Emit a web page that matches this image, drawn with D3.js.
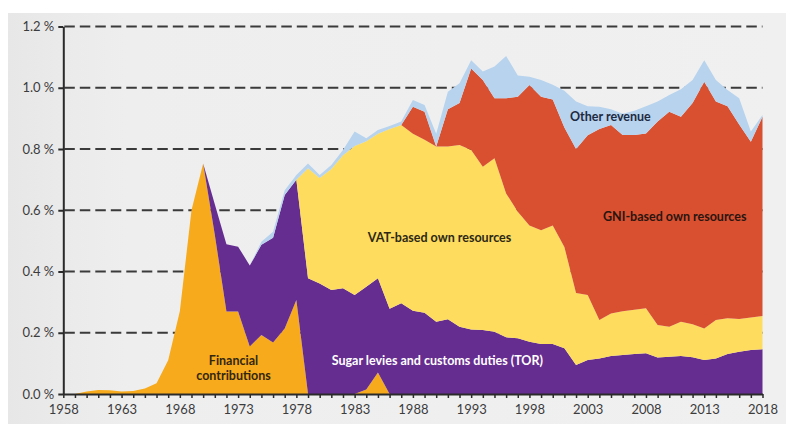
<!DOCTYPE html>
<html>
<head>
<meta charset="utf-8">
<script src="https://cdn.jsdelivr.net/npm/d3@7"></script>
<style>
  html, body { margin: 0; padding: 0; background: #ffffff; }
  svg { display: block; }
  text { font-family: Lato, "Open Sans", sans-serif; }
</style>
</head>
<body>
<svg id="chart" width="792" height="424"></svg>
<script>
// EU budget revenue by source, % of GNI, 1958-2018
const years = d3.range(1958, 2019);

const financialContributions = [
  0, 0, 0.008, 0.013, 0.012, 0.008, 0.01, 0.018, 0.035, 0.11,
  0.27, 0.6, 0.753, 0.52, 0.269, 0.269, 0.155, 0.193, 0.168, 0.214,
  0.307, 0, 0, 0, 0, 0, 0.015, 0.07, 0, 0,
  0, 0, 0, 0, 0, 0, 0, 0, 0, 0,
  0, 0, 0, 0, 0, 0, 0, 0, 0, 0,
  0, 0, 0, 0, 0, 0, 0, 0, 0, 0, 0
];

const traditionalOwnResources = [
  0, 0, 0, 0, 0, 0, 0, 0, 0, 0,
  0, 0, 0, 0.10, 0.22, 0.212, 0.265, 0.294, 0.342, 0.436,
  0.393, 0.378, 0.361, 0.34, 0.345, 0.323, 0.335, 0.308, 0.278, 0.296,
  0.272, 0.265, 0.236, 0.244, 0.22, 0.211, 0.209, 0.203, 0.185, 0.182,
  0.171, 0.163, 0.163, 0.149, 0.095, 0.111, 0.116, 0.124, 0.127, 0.131,
  0.133, 0.119, 0.122, 0.124, 0.12, 0.111, 0.116, 0.131, 0.138, 0.144, 0.146
];

const vatResources = [
  0, 0, 0, 0, 0, 0, 0, 0, 0, 0,
  0, 0, 0, 0, 0, 0, 0, 0, 0, 0,
  0, 0.359, 0.344, 0.395, 0.435, 0.487, 0.475, 0.472, 0.587, 0.582,
  0.578, 0.565, 0.572, 0.564, 0.593, 0.586, 0.533, 0.567, 0.47, 0.413,
  0.379, 0.372, 0.387, 0.331, 0.235, 0.212, 0.126, 0.139, 0.143, 0.144,
  0.147, 0.106, 0.098, 0.112, 0.108, 0.103, 0.126, 0.116, 0.107, 0.106, 0.109
];

const gniResources = [
  0, 0, 0, 0, 0, 0, 0, 0, 0, 0,
  0, 0, 0, 0, 0, 0, 0, 0, 0, 0,
  0, 0, 0, 0, 0, 0, 0, 0, 0, 0,
  0.088, 0.092, 0, 0.122, 0.137, 0.266, 0.283, 0.196, 0.311, 0.376,
  0.459, 0.436, 0.412, 0.39, 0.47, 0.522, 0.623, 0.615, 0.576, 0.571,
  0.571, 0.665, 0.702, 0.669, 0.722, 0.806, 0.713, 0.693, 0.635, 0.574, 0.65
];

const otherRevenue = [
  0, 0, 0, 0, 0, 0, 0, 0, 0, 0,
  0, 0, 0, 0, 0, 0, 0, 0.01, 0.02, 0.015,
  0.015, 0.016, 0.01, 0.013, 0.017, 0.047, 0.01, 0.012, 0.01, 0.012,
  0.022, 0.022, 0.042, 0.057, 0.065, 0.027, 0.028, 0.103, 0.138, 0.069,
  0.027, 0.054, 0.048, 0.12, 0.155, 0.095, 0.073, 0.052, 0.069, 0.079,
  0.089, 0.065, 0.054, 0.09, 0.075, 0.07, 0.07, 0.053, 0.086, 0.033, 0.006
];

const yTicks = [0, 0.2, 0.4, 0.6, 0.8, 1.0, 1.2];
const xLabelYears = d3.range(1958, 2019, 5);

const seriesKeys = ["fin", "tor", "vat", "gni", "other"];
const seriesColors = {
  fin: "#f6aa1c",
  tor: "#662d91",
  vat: "#fddc5e",
  gni: "#d95031",
  other: "#b7d3ed"
};

const table = years.map((yr, i) => ({
  year: yr,
  fin: financialContributions[i],
  tor: traditionalOwnResources[i],
  vat: vatResources[i],
  gni: gniResources[i],
  other: otherRevenue[i]
}));

const svg = d3.select("#chart");

// panel background
const defs = svg.append("defs");
const grad = defs.append("linearGradient").attr("id", "panelBg")
  .attr("x1", "0").attr("x2", "1").attr("y1", "0").attr("y2", "0");
grad.append("stop").attr("offset", "0").attr("stop-color", "#e7e7e7");
grad.append("stop").attr("offset", "0.15").attr("stop-color", "#eeeeef");
grad.append("stop").attr("offset", "1").attr("stop-color", "#f0f0f1");
svg.append("rect").attr("x", 8).attr("y", 13).attr("width", 778).attr("height", 411)
  .attr("fill", "url(#panelBg)");

const x = d3.scaleLinear().domain([1958, 2018]).range([63.3, 762.5]);
const y = d3.scaleLinear().domain([0, 1.2]).range([394, 26.5]);

// dashed gridlines
svg.append("g").selectAll("line")
  .data(yTicks.filter(d => d > 0))
  .join("line")
  .attr("x1", x(1958) + 1).attr("x2", x(2018))
  .attr("y1", d => y(d)).attr("y2", d => y(d))
  .attr("stroke", "#3a3a3a")
  .attr("stroke-width", 2)
  .attr("stroke-dasharray", "10.5,5");

// stacked areas
const stacked = d3.stack().keys(seriesKeys)(table);
const area = d3.area()
  .x(d => x(d.data.year))
  .y0(d => y(d[0]))
  .y1(d => y(d[1]));

svg.append("g").selectAll("path")
  .data(stacked)
  .join("path")
  .attr("fill", d => seriesColors[d.key])
  .attr("d", area);

// axes
const yAxis = d3.axisLeft(y)
  .tickValues(yTicks)
  .tickFormat(d => d.toFixed(1) + " %")
  .tickSize(5)
  .tickSizeOuter(0)
  .tickPadding(4);

const gy = svg.append("g").attr("transform", `translate(${x(1958)},0)`).call(yAxis);
gy.select(".domain").attr("stroke", "#2a2a2a").attr("stroke-width", 2);
gy.selectAll(".tick line").attr("stroke", "#2a2a2a").attr("stroke-width", 2);
gy.selectAll(".tick text")
  .attr("fill", "#3c3c3c")
  .style("font-family", "Lato, sans-serif")
  .style("font-size", "13px");

const xAxis = d3.axisBottom(x)
  .tickValues(years)
  .tickFormat(d => (xLabelYears.includes(d) ? String(d) : ""))
  .tickSize(4)
  .tickSizeOuter(0)
  .tickPadding(7);

const gx = svg.append("g").attr("transform", `translate(0,${y(0)})`).call(xAxis);
gx.select(".domain").attr("stroke", "#2a2a2a").attr("stroke-width", 2);
gx.selectAll(".tick line").attr("stroke", "#2a2a2a").attr("stroke-width", 1.5);
gx.selectAll(".tick text")
  .attr("fill", "#3c3c3c")
  .style("font-family", "Lato, sans-serif")
  .style("font-size", "13px");

// series labels
const labels = svg.append("g")
  .style("font-family", "Lato, sans-serif")
  .style("font-weight", "700")
  .style("font-size", "12.5px");

labels.append("text").attr("x", 233.5).attr("y", 364.5)
  .attr("text-anchor", "middle").attr("fill", "#33260f").text("Financial");
labels.append("text").attr("x", 233.5).attr("y", 379.5)
  .attr("text-anchor", "middle").attr("fill", "#33260f").text("contributions");
labels.append("text").attr("x", 331.7).attr("y", 364.5)
  .attr("fill", "#ffffff").text("Sugar levies and customs duties (TOR)");
labels.append("text").attr("x", 367.7).attr("y", 241.5)
  .attr("fill", "#2d2816").text("VAT-based own resources");
labels.append("text").attr("x", 603).attr("y", 221)
  .attr("fill", "#2a1510").text("GNI-based own resources");
labels.append("text").attr("x", 570).attr("y", 121)
  .attr("fill", "#1e2a42").text("Other revenue");
</script>
</body>
</html>
